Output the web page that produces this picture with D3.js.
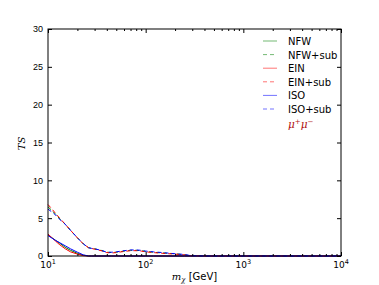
<!DOCTYPE html>
<html>
<head>
<meta charset="utf-8">
<script src="https://cdn.jsdelivr.net/npm/d3@7"></script>
<style>
  body { margin: 0; background: #fff; }
  svg { display: block; font-family: "DejaVu Sans", sans-serif; }
  .tick text { font-size: 9px; fill: #000; }
  .leg { font-size: 10px; }
</style>
</head>
<body>
<div id="chart"></div>
<script>
// Datos
const masses = [10, 11, 12, 13, 15, 17, 20, 23, 26, 28, 30, 35, 40, 45, 50, 60, 70, 80, 90, 100, 120, 150, 200, 250, 290, 400, 1000, 10000];

const nfw    = [2.8, 2.4, 2.05, 1.75, 1.15, 0.75, 0.35, 0.1, 0, 0, 0, 0, 0, 0, 0, 0, 0, 0, 0, 0, 0, 0, 0, 0, 0, 0, 0, 0];
const ein    = [2.9, 2.4, 1.95, 1.55, 0.95, 0.55, 0.25, 0.05, 0, 0, 0, 0, 0, 0, 0, 0, 0, 0, 0, 0, 0, 0, 0, 0, 0, 0, 0, 0];
const iso    = [2.7, 2.35, 2.05, 1.8, 1.35, 0.95, 0.5, 0.15, 0, 0, 0, 0, 0, 0, 0, 0, 0, 0, 0, 0, 0, 0, 0, 0, 0, 0, 0, 0];

const nfwSub = [6.5, 6.0, 5.5, 5.0, 4.2, 3.4, 2.4, 1.6, 1.1, 1.0, 0.95, 0.75, 0.5, 0.45, 0.5, 0.65, 0.75, 0.75, 0.7, 0.6, 0.5, 0.4, 0.3, 0.15, 0.05, 0, 0, 0];
const einSub = [6.8, 6.2, 5.6, 5.1, 4.2, 3.4, 2.4, 1.6, 1.1, 1.0, 0.9, 0.7, 0.45, 0.4, 0.45, 0.6, 0.7, 0.7, 0.65, 0.55, 0.45, 0.35, 0.25, 0.15, 0.05, 0, 0, 0];
const isoSub = [6.2, 5.8, 5.4, 4.9, 4.2, 3.4, 2.4, 1.6, 1.1, 1.0, 0.95, 0.75, 0.5, 0.5, 0.55, 0.7, 0.8, 0.8, 0.75, 0.65, 0.55, 0.45, 0.3, 0.2, 0.05, 0, 0, 0];

const yTicks = [0, 5, 10, 15, 20, 25, 30];
const xTicks = [10, 100, 1000, 10000];
const xExp = ['1', '2', '3', '4'];

const series = [
  {name: 'NFW', values: nfw, color: '#008000', dash: null},
  {name: 'NFW+sub', values: nfwSub, color: '#008000', dash: '4,3'},
  {name: 'EIN', values: ein, color: '#ff0000', dash: null},
  {name: 'EIN+sub', values: einSub, color: '#ff0000', dash: '4,3'},
  {name: 'ISO', values: iso, color: '#0000ff', dash: null},
  {name: 'ISO+sub', values: isoSub, color: '#0000ff', dash: '4,3'}
];

let margin = {top: 29, right: 38, bottom: 29, left: 48},
    W = 379, H = 285,
    width = W - margin.left - margin.right,
    height = H - margin.top - margin.bottom;

let svg = d3.select('#chart').append('svg')
    .attr('width', W).attr('height', H)
  .append('g')
    .attr('transform', 'translate(' + margin.left + ',' + margin.top + ')');

let x = d3.scaleLog().domain([10, 10000]).range([0, width]);
let y = d3.scaleLinear().domain([0, 30]).range([height, 0]);

// Minor ticks en x
let minor = [];
[10, 100, 1000].forEach(function(b) { for (let k = 2; k <= 9; k++) minor.push(b * k); });

// Curvas
let line = d3.line()
  .x(function(d, i) { return x(masses[i]); })
  .y(function(d) { return y(d); });

svg.append('g').selectAll('path')
  .data(series)
  .enter().append('path')
  .attr('d', function(d) { return line(d.values); })
  .attr('fill', 'none')
  .attr('stroke', function(d) { return d.color; })
  .attr('stroke-width', 1)
  .attr('stroke-dasharray', function(d) { return d.dash; });

// Ejes (ticks hacia dentro, en los cuatro lados)
let gx = svg.append('g').attr('transform', 'translate(0,' + height + ')')
  .call(d3.axisBottom(x).tickValues(xTicks).tickSize(-4).tickFormat(''));
gx.select('.domain').remove();
svg.append('g').attr('transform', 'translate(0,' + height + ')')
  .call(d3.axisBottom(x).tickValues(minor).tickSize(-2).tickFormat(''))
  .call(function(g) { g.select('.domain').remove(); });
svg.append('g')
  .call(d3.axisTop(x).tickValues(xTicks).tickSize(-4).tickFormat(''))
  .call(function(g) { g.select('.domain').remove(); });
svg.append('g')
  .call(d3.axisTop(x).tickValues(minor).tickSize(-2).tickFormat(''))
  .call(function(g) { g.select('.domain').remove(); });

svg.append('g')
  .call(d3.axisLeft(y).tickValues(yTicks).tickSize(-4).tickPadding(5))
  .call(function(g) { g.select('.domain').remove(); })
  .call(function(g) { g.selectAll('.tick text').attr('dx', '0'); });
svg.append('g').attr('transform', 'translate(' + width + ',0)')
  .call(d3.axisRight(y).tickValues(yTicks).tickSize(-4).tickFormat(''))
  .call(function(g) { g.select('.domain').remove(); });

// Etiquetas x con superíndice
let xl = svg.append('g');
xTicks.forEach(function(t, i) {
  let txt = xl.append('text')
    .attr('x', x(t)).attr('y', height + 12)
    .attr('text-anchor', 'middle')
    .style('font-size', '9px');
  txt.append('tspan').text('10');
  txt.append('tspan').attr('dy', -4).style('font-size', '6.5px').text(xExp[i]);
});

// Marco
svg.append('rect')
  .attr('width', width).attr('height', height)
  .attr('fill', 'none').attr('stroke', '#000').attr('stroke-width', 1);

// Títulos de ejes
let xt = svg.append('text')
  .attr('x', width / 2).attr('y', height + 24)
  .attr('text-anchor', 'middle')
  .style('font-size', '10px');
xt.append('tspan').style('font-family', 'DejaVu Serif').style('font-style', 'italic').text('m');
xt.append('tspan').attr('dy', 2).style('font-family', 'DejaVu Serif').style('font-style', 'italic').style('font-size', '7px').text('χ');
xt.append('tspan').attr('dy', -2).text(' [GeV]');

svg.append('text')
  .attr('transform', 'translate(-23,' + (height / 2 + 1) + ') rotate(-90)')
  .attr('text-anchor', 'middle')
  .style('font-family', 'DejaVu Serif').style('font-style', 'italic')
  .style('font-size', '10px')
  .text('TS');

// Leyenda
let leg = svg.append('g').attr('transform', 'translate(' + (263 - margin.left) + ',' + (41 - margin.top) + ')');
series.forEach(function(s, i) {
  let row = leg.append('g').attr('transform', 'translate(0,' + (i * 13.6) + ')');
  row.append('line')
    .attr('x1', 0).attr('x2', 14).attr('y1', 0).attr('y2', 0)
    .attr('stroke', s.color).attr('stroke-opacity', 0.55)
    .attr('stroke-dasharray', s.dash);
  row.append('text')
    .attr('class', 'leg')
    .attr('x', 25).attr('y', 4)
    .text(s.name);
});
let mu = leg.append('text')
  .attr('x', 25).attr('y', 6 * 13.6 + 5)
  .style('font-family', 'DejaVu Serif').style('font-style', 'italic')
  .style('font-size', '10.5px').attr('fill', '#b01010');
mu.append('tspan').text('μ');
mu.append('tspan').attr('dy', -4).style('font-size', '7px').text('+');
mu.append('tspan').attr('dy', 4).text('μ');
mu.append('tspan').attr('dy', -4).style('font-size', '7px').text('−');
</script>
</body>
</html>
